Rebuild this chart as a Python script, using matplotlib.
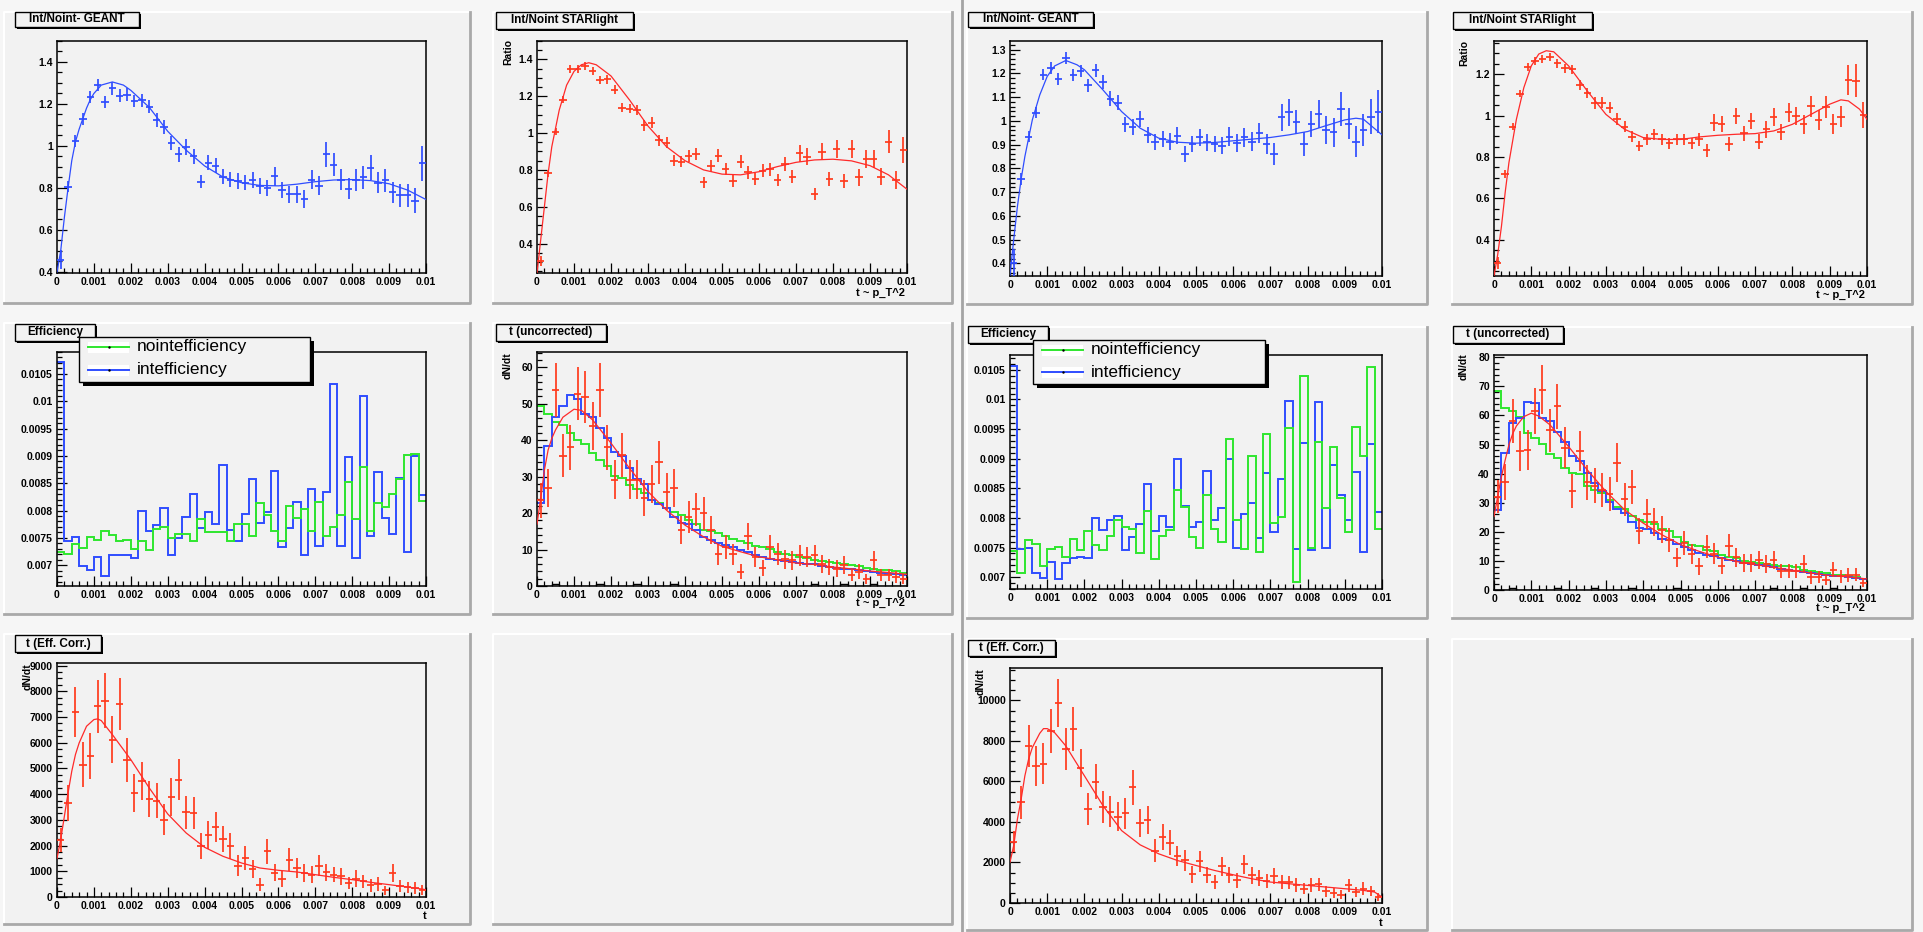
import numpy as np
import matplotlib
matplotlib.use('Agg')
import matplotlib.pyplot as plt
from matplotlib.patches import Rectangle
from matplotlib.lines import Line2D
from matplotlib.ticker import MultipleLocator, AutoMinorLocator, FuncFormatter

plt.rcParams['font.family'] = ['Liberation Sans', 'DejaVu Sans']
plt.rcParams['font.weight'] = 'bold'

# ---------------- data: 50 bins in t from 0 to 0.01 ----------------
t_edges = np.linspace(0.0, 0.01, 51)

# ---- left canvas ----
geantL_vals = [0.458, 0.805, 1.025, 1.128, 1.235, 1.29, 1.21, 1.275, 1.24, 1.245,
               1.215, 1.217, 1.187, 1.125, 1.09, 1.013, 0.96, 0.995, 0.95, 0.83,
               0.92, 0.905, 0.853, 0.84, 0.833, 0.825, 0.837, 0.81, 0.80, 0.855,
               0.79, 0.77, 0.77, 0.746, 0.84, 0.81, 0.96, 0.91, 0.84, 0.797,
               0.837, 0.85, 0.897, 0.825, 0.837, 0.78, 0.765, 0.765, 0.74, 0.918]
geantL_errs = [0.045, 0.026, 0.028, 0.028, 0.028, 0.028, 0.03, 0.03, 0.03, 0.03,
               0.03, 0.032, 0.032, 0.034, 0.034, 0.034, 0.034, 0.036, 0.036, 0.032,
               0.036, 0.036, 0.036, 0.036, 0.036, 0.036, 0.038, 0.038, 0.038, 0.045,
               0.04, 0.04, 0.04, 0.042, 0.045, 0.045, 0.058, 0.055, 0.05, 0.05,
               0.052, 0.055, 0.06, 0.05, 0.055, 0.05, 0.055, 0.055, 0.06, 0.083]
geantL_fit_t = [0, 0.0001, 0.0002, 0.0003, 0.0004, 0.0005, 0.0006, 0.0007, 0.0008, 0.0009, 0.001,
                0.0012, 0.0015, 0.0018, 0.002, 0.0025, 0.003, 0.0035, 0.004, 0.0045, 0.005,
                0.0055, 0.006, 0.0065, 0.007, 0.0075, 0.008, 0.0085, 0.009, 0.0095, 0.01]
geantL_fit_y = [0.40, 0.50, 0.66, 0.80, 0.93, 1.02, 1.08, 1.13, 1.18, 1.22, 1.25,
                1.29, 1.305, 1.29, 1.265, 1.184, 1.07, 0.98, 0.905, 0.852, 0.825,
                0.812, 0.81, 0.818, 0.83, 0.838, 0.84, 0.835, 0.82, 0.79, 0.745]

starL_vals = [0.306, 0.782, 1.007, 1.182, 1.346, 1.35, 1.364, 1.337, 1.286, 1.292,
              1.236, 1.137, 1.133, 1.124, 1.043, 1.056, 0.962, 0.948, 0.849, 0.845,
              0.876, 0.886, 0.733, 0.822, 0.877, 0.805, 0.74, 0.845, 0.786, 0.751,
              0.795, 0.804, 0.744, 0.832, 0.764, 0.89, 0.872, 0.67, 0.899, 0.751,
              0.914, 0.74, 0.912, 0.759, 0.86, 0.86, 0.764, 0.953, 0.746, 0.908]
starL_errs = [0.027, 0.02, 0.02, 0.02, 0.022, 0.022, 0.022, 0.022, 0.022, 0.024,
              0.024, 0.024, 0.024, 0.026, 0.03, 0.03, 0.03, 0.03, 0.03, 0.03,
              0.032, 0.034, 0.03, 0.034, 0.036, 0.034, 0.032, 0.036, 0.034, 0.034,
              0.036, 0.036, 0.034, 0.04, 0.036, 0.045, 0.045, 0.032, 0.048, 0.04,
              0.05, 0.04, 0.05, 0.045, 0.05, 0.05, 0.045, 0.063, 0.05, 0.068]
starL_fit_t = [0, 0.0001, 0.0002, 0.0003, 0.0004, 0.0006, 0.0008, 0.001, 0.0012, 0.0014, 0.0016,
               0.002, 0.0025, 0.003, 0.0035, 0.004, 0.0045, 0.005, 0.0055, 0.006, 0.0065,
               0.007, 0.0075, 0.008, 0.0085, 0.009, 0.0095, 0.01]
starL_fit_y = [0.24, 0.42, 0.60, 0.78, 0.926, 1.124, 1.26, 1.335, 1.371, 1.382, 1.371,
               1.31, 1.18, 1.038, 0.926, 0.85, 0.80, 0.777, 0.773, 0.79, 0.818,
               0.841, 0.854, 0.858, 0.849, 0.823, 0.773, 0.695]

effL_int = [0.01071, 0.00744, 0.00751, 0.00698, 0.00692, 0.00715, 0.00681, 0.00719, 0.00719, 0.00718,
            0.00713, 0.00799, 0.00763, 0.00773, 0.00804, 0.00719, 0.00749, 0.00788, 0.00831, 0.00768,
            0.00797, 0.00776, 0.00884, 0.00765, 0.00744, 0.00794, 0.00858, 0.00777, 0.00798, 0.00872,
            0.00734, 0.00768, 0.00815, 0.00718, 0.0084, 0.00736, 0.00834, 0.01032, 0.00736, 0.00898,
            0.00713, 0.0101, 0.00753, 0.0087, 0.00787, 0.00757, 0.00859, 0.00724, 0.009, 0.00828]
effL_noint = [0.00724, 0.00721, 0.00739, 0.00732, 0.00751, 0.00747, 0.00763, 0.00755, 0.00745, 0.00747,
              0.00729, 0.00744, 0.00727, 0.00767, 0.0077, 0.00749, 0.00757, 0.00757, 0.00745, 0.00784,
              0.0076, 0.0076, 0.00761, 0.00744, 0.00776, 0.00776, 0.00753, 0.00813, 0.00791, 0.00763,
              0.00744, 0.00808, 0.00787, 0.00803, 0.00763, 0.00815, 0.00753, 0.0077, 0.00791, 0.00852,
              0.00784, 0.0088, 0.00763, 0.00813, 0.00807, 0.00831, 0.00857, 0.00901, 0.00904, 0.00817]

uncL_vals = [23.5, 27.0, 53.8, 35.8, 38.1, 52.8, 51.9, 44.0, 53.8, 38.1,
             29.2, 36.0, 29.2, 29.2, 24.1, 28.0, 33.9, 25.9, 27.0, 15.3,
             19.0, 21.0, 19.9, 15.3, 8.7, 10.7, 8.7, 3.9, 13.6, 8.0,
             4.9, 10.8, 8.8, 7.3, 7.0, 8.4, 8.0, 8.4, 6.0, 5.2,
             4.8, 5.7, 3.0, 3.9, 2.0, 7.0, 3.0, 3.0, 2.5, 2.0]
uncL_errs = [4.8, 5.2, 7.3, 6.0, 6.2, 7.3, 7.2, 6.6, 7.3, 6.2,
             5.4, 6.0, 5.4, 5.4, 4.9, 5.3, 5.8, 5.1, 5.2, 3.9,
             4.4, 4.6, 4.5, 3.9, 2.9, 3.3, 2.9, 2.0, 3.7, 2.8,
             2.2, 3.3, 3.0, 2.7, 2.6, 2.9, 2.8, 2.9, 2.4, 2.3,
             2.2, 2.4, 1.7, 2.0, 1.4, 2.6, 1.7, 1.7, 1.6, 1.4]
uncL_int = [22.8, 38.3, 46.3, 49.5, 52.3, 51.4, 47.2, 46.5, 43.3, 40.7,
            36.9, 35.8, 32.3, 29.3, 27.9, 23.6, 22.4, 21.3, 19.0, 17.2,
            16.9, 15.3, 13.5, 12.6, 11.9, 11.2, 10.6, 9.8, 9.2, 8.6,
            8.0, 7.5, 7.2, 6.9, 6.6, 6.3, 6.1, 5.9, 5.5, 5.2,
            5.0, 4.8, 4.6, 4.3, 4.1, 3.9, 3.6, 3.4, 3.2, 3.0]
uncL_noint = [49.5, 47.2, 45.1, 44.2, 42.1, 40.1, 38.9, 36.4, 34.6, 32.8,
              30.3, 29.5, 27.7, 26.5, 25.6, 23.6, 22.9, 21.5, 20.4, 19.6,
              18.1, 16.9, 15.5, 15.0, 14.6, 13.8, 13.0, 12.4, 11.7, 10.9,
              10.7, 10.1, 9.4, 8.9, 8.4, 8.0, 7.7, 7.2, 6.9, 6.6,
              6.3, 6.0, 5.7, 5.4, 5.0, 4.8, 4.5, 4.3, 4.1, 3.7]
uncL_black = [0, 0, 0.6, 0, 0, 0, 0, 0, 0.6, 0,
              0, 0, 0, 0.6, 0, 0, 0, 0, 0.6, 0,
              0, 0, 0, 0, 0, 0, 0, 0, 0, 0,
              0, 0, 0, 0, 0, 0, 0, 0.6, 0, 0,
              0, 0.6, 0, 0, 0, 0.6, 0, 0, 0, 0]
uncL_fit_t = [0, 0.0001, 0.0002, 0.0003, 0.0004, 0.0005, 0.0007, 0.001, 0.0012, 0.0015, 0.002,
              0.0025, 0.003, 0.0035, 0.004, 0.0045, 0.005, 0.0055, 0.006, 0.0065, 0.007,
              0.0075, 0.008, 0.0085, 0.009, 0.0095, 0.01]
uncL_fit_y = [17.0, 24.0, 31.8, 37.3, 40.5, 42.8, 46.3, 48.5, 48.2, 45.6, 39.2,
              32.3, 25.9, 20.8, 16.7, 13.5, 10.9, 9.4, 8.0, 7.2, 6.3,
              5.9, 5.2, 4.7, 4.1, 3.7, 3.2]

corL_vals = [2231, 3658, 7185, 5149, 5499, 7419, 7640, 6122, 7510, 5318,
             4047, 4501, 3813, 3748, 3009, 3878, 4565, 3294, 3268, 1971,
             2399, 2711, 2270, 1997, 1219, 1517, 1089, 480, 1777, 934,
             700, 1453, 1128, 934, 869, 1219, 960, 869, 804, 545,
             713, 610, 454, 506, 259, 934, 415, 376, 350, 285]
corL_errs = [466, 703, 980, 860, 891, 1024, 1062, 924, 1021, 862,
             749, 747, 705, 693, 614, 733, 785, 646, 627, 505,
             549, 591, 508, 511, 413, 464, 369, 243, 482, 331,
             316, 442, 380, 346, 328, 421, 340, 300, 328, 239,
             325, 256, 262, 256, 183, 353, 239, 217, 221, 201]
corL_fit_t = [0, 0.0001, 0.0002, 0.0003, 0.0004, 0.0005, 0.0006, 0.0008, 0.001, 0.0011, 0.0012,
              0.0015, 0.002, 0.0025, 0.003, 0.0035, 0.004, 0.0045, 0.005, 0.0055, 0.006,
              0.0065, 0.007, 0.0075, 0.008, 0.0085, 0.009, 0.0095, 0.01]
corL_fit_y = [1500, 2230, 3140, 4050, 4890, 5540, 5990, 6640, 6900, 6926, 6860,
              6316, 5344, 4241, 3230, 2490, 1933, 1582, 1323, 1128, 1038,
              973, 869, 765, 674, 571, 480, 389, 285]

# ---- right canvas ----
geantR_vals = [0.40, 0.756, 0.934, 1.035, 1.194, 1.222, 1.177, 1.264, 1.194, 1.21,
               1.149, 1.212, 1.165, 1.093, 1.077, 0.986, 0.973, 1.008, 0.941, 0.91,
               0.923, 0.913, 0.938, 0.861, 0.903, 0.93, 0.909, 0.902, 0.896, 0.934,
               0.906, 0.931, 0.913, 0.948, 0.903, 0.861, 1.015, 1.036, 0.994, 0.902,
               0.987, 1.029, 0.962, 0.952, 1.05, 0.987, 0.913, 0.962, 1.018, 1.039]
geantR_errs = [0.06, 0.025, 0.022, 0.022, 0.024, 0.024, 0.025, 0.026, 0.026, 0.027,
               0.028, 0.028, 0.03, 0.032, 0.032, 0.032, 0.033, 0.033, 0.033, 0.033,
               0.033, 0.034, 0.035, 0.033, 0.034, 0.035, 0.035, 0.035, 0.036, 0.038,
               0.037, 0.039, 0.04, 0.042, 0.042, 0.045, 0.057, 0.058, 0.05, 0.05,
               0.055, 0.06, 0.06, 0.062, 0.073, 0.065, 0.065, 0.068, 0.075, 0.09]
geantR_fit_t = [0, 0.0001, 0.0002, 0.0003, 0.0004, 0.0006, 0.0008, 0.001, 0.0012, 0.0015, 0.0018,
                0.002, 0.0025, 0.003, 0.0035, 0.004, 0.0045, 0.005, 0.0055, 0.006, 0.0065,
                0.007, 0.0075, 0.008, 0.0085, 0.009, 0.0093, 0.0095, 0.01]
geantR_fit_y = [0.35, 0.50, 0.64, 0.755, 0.85, 1.004, 1.109, 1.187, 1.231, 1.254, 1.236,
                1.215, 1.13, 1.039, 0.969, 0.927, 0.91, 0.906, 0.909, 0.916, 0.923,
                0.93, 0.941, 0.955, 0.98, 1.004, 1.011, 1.007, 0.941]

starR_vals = [0.289, 0.719, 0.947, 1.106, 1.235, 1.265, 1.273, 1.284, 1.252, 1.229,
              1.224, 1.147, 1.111, 1.06, 1.063, 1.039, 0.985, 0.947, 0.898, 0.853,
              0.885, 0.91, 0.885, 0.866, 0.885, 0.885, 0.866, 0.885, 0.832, 0.966,
              0.958, 0.865, 0.998, 0.915, 0.974, 0.873, 0.934, 0.994, 0.921, 1.015,
              0.998, 0.958, 1.044, 0.979, 1.042, 0.958, 0.995, 1.171, 1.168, 1.002]
starR_errs = [0.028, 0.018, 0.018, 0.018, 0.02, 0.02, 0.02, 0.02, 0.02, 0.022,
              0.022, 0.024, 0.024, 0.028, 0.028, 0.028, 0.028, 0.028, 0.026, 0.024,
              0.026, 0.026, 0.026, 0.026, 0.028, 0.028, 0.028, 0.03, 0.03, 0.04,
              0.038, 0.034, 0.04, 0.036, 0.04, 0.036, 0.042, 0.042, 0.04, 0.045,
              0.045, 0.045, 0.05, 0.048, 0.052, 0.048, 0.05, 0.072, 0.08, 0.064]
starR_fit_t = [0, 0.0001, 0.0002, 0.0003, 0.0004, 0.0006, 0.0008, 0.001, 0.0012, 0.0014, 0.0016,
               0.002, 0.0025, 0.003, 0.0035, 0.004, 0.0045, 0.005, 0.0055, 0.006, 0.0065,
               0.007, 0.0075, 0.008, 0.0085, 0.009, 0.0093, 0.0095, 0.0098, 0.01]
starR_fit_y = [0.227, 0.33, 0.466, 0.63, 0.773, 0.982, 1.135, 1.24, 1.297, 1.313, 1.308,
               1.24, 1.119, 1.006, 0.934, 0.894, 0.885, 0.885, 0.897, 0.905, 0.91,
               0.913, 0.926, 0.958, 1.006, 1.055, 1.076, 1.071, 1.031, 0.982]

effR_int = [0.01057, 0.00747, 0.00749, 0.00707, 0.00699, 0.00726, 0.00697, 0.00724, 0.00733, 0.00734,
            0.00733, 0.0080, 0.00779, 0.00796, 0.00804, 0.00745, 0.00768, 0.00789, 0.00857, 0.00778,
            0.00804, 0.00785, 0.0090, 0.0082, 0.00785, 0.00793, 0.0088, 0.00797, 0.00816, 0.0090,
            0.00749, 0.00807, 0.00825, 0.00766, 0.00875, 0.00776, 0.00866, 0.00997, 0.00748, 0.00926,
            0.00745, 0.00995, 0.00749, 0.0089, 0.00838, 0.00796, 0.00877, 0.00742, 0.00924, 0.0081]
effR_noint = [0.00744, 0.00707, 0.00762, 0.00756, 0.00719, 0.00748, 0.00751, 0.00734, 0.00765, 0.00745,
              0.00778, 0.00755, 0.00745, 0.0077, 0.00796, 0.00785, 0.00781, 0.00741, 0.00812, 0.0073,
              0.0077, 0.00779, 0.00847, 0.00819, 0.00768, 0.00749, 0.00838, 0.00781, 0.0076, 0.00934,
              0.00797, 0.00747, 0.00904, 0.00743, 0.00942, 0.00792, 0.00802, 0.00951, 0.00692, 0.01039,
              0.00749, 0.00928, 0.00816, 0.00919, 0.00833, 0.00776, 0.00954, 0.00905, 0.01054, 0.00781]

uncR_vals = [32.1, 37.1, 58.1, 47.9, 48.1, 61.7, 68.9, 55.0, 63.1, 48.9,
             34.0, 47.9, 37.0, 35.9, 34.3, 33.0, 43.8, 31.2, 35.3, 20.2,
             26.1, 23.3, 20.8, 17.2, 11.1, 16.2, 12.3, 8.2, 14.9, 12.5,
             8.4, 15.3, 11.2, 9.4, 9.3, 10.3, 8.9, 10.3, 6.5, 6.5,
             6.5, 9.1, 4.3, 4.4, 3.4, 6.9, 4.7, 5.2, 5.3, 2.4]
uncR_errs = [5.7, 6.1, 7.6, 6.9, 6.9, 7.9, 8.3, 7.4, 7.9, 7.0,
             5.8, 6.9, 6.1, 6.0, 5.9, 5.7, 6.6, 5.6, 5.9, 4.5,
             5.1, 4.8, 4.6, 4.1, 3.3, 4.0, 3.5, 2.9, 3.9, 3.5,
             2.9, 3.9, 3.3, 3.1, 3.0, 3.2, 3.0, 3.2, 2.5, 2.5,
             2.5, 3.0, 2.1, 2.1, 1.8, 2.6, 2.2, 2.3, 2.3, 1.5]
uncR_int = [27.6, 47.0, 57.3, 59.0, 64.8, 64.4, 59.0, 58.2, 54.2, 50.8,
            46.2, 44.5, 40.2, 36.7, 34.2, 30.4, 27.8, 26.4, 23.3, 21.3,
            20.9, 19.6, 17.7, 17.3, 15.9, 14.8, 13.8, 12.7, 12.1, 11.6,
            11.0, 10.4, 9.8, 9.3, 8.9, 8.6, 8.1, 7.8, 7.2, 7.0,
            6.4, 6.1, 5.8, 5.5, 5.1, 4.9, 4.7, 4.3, 4.1, 3.9]
uncR_noint = [68.4, 62.5, 61.7, 59.4, 53.9, 52.4, 50.1, 46.8, 45.3, 41.9,
              40.2, 39.9, 35.9, 34.4, 33.3, 31.0, 28.7, 27.9, 25.6, 24.1,
              23.3, 22.7, 21.1, 20.4, 18.1, 16.5, 15.6, 15.0, 13.8, 13.3,
              11.9, 11.3, 11.0, 9.8, 9.6, 9.3, 8.9, 8.7, 8.4, 8.1,
              7.8, 7.0, 6.4, 6.1, 5.8, 5.3, 5.0, 4.7, 4.3, 3.8]
uncR_black = [0, 0, 0.8, 0, 0, 0, 0, 0, 0.8, 0,
              0, 0, 0, 0.8, 0, 0, 0, 0, 0.8, 0,
              0, 0, 0, 0, 0.8, 0, 0, 0, 0, 0,
              0, 0, 0, 0, 0, 0, 0, 0.8, 0, 0,
              0, 0.8, 0, 0, 0, 0.8, 0, 0, 0, 0]
uncR_fit_t = [0, 0.0001, 0.0002, 0.0003, 0.0004, 0.0005, 0.0006, 0.0008, 0.001, 0.0012, 0.0015,
              0.002, 0.0025, 0.003, 0.0035, 0.004, 0.0045, 0.005, 0.0055, 0.006, 0.0065,
              0.007, 0.0075, 0.008, 0.0085, 0.009, 0.0095, 0.01]
uncR_fit_y = [25.3, 32.2, 39.0, 44.7, 49.9, 53.7, 56.4, 59.6, 60.8, 59.8, 56.8,
              49.3, 41.3, 33.9, 27.6, 23.0, 19.0, 15.6, 13.3, 11.3, 9.8,
              8.7, 7.8, 6.8, 5.8, 5.0, 4.5, 3.8]

corR_vals = [3033, 4967, 7754, 6770, 6885, 8492, 9885, 7590, 8607, 6656,
             4639, 5984, 4754, 4508, 4262, 4426, 5705, 3951, 4115, 2590,
             3246, 2967, 2311, 2098, 1410, 2049, 1393, 1033, 1820, 1393,
             1115, 1902, 1361, 1230, 1066, 1328, 1033, 1033, 869, 705,
             869, 918, 574, 492, 410, 869, 541, 705, 574, 295]
corR_errs = [535, 815, 1017, 980, 993, 1080, 1190, 1024, 1083, 951,
             795, 865, 782, 752, 728, 770, 862, 707, 693, 576,
             635, 615, 507, 506, 423, 509, 397, 361, 471, 394,
             385, 486, 407, 401, 350, 414, 346, 322, 341, 276,
             341, 304, 277, 235, 222, 331, 249, 309, 249, 190]
corR_fit_t = [0, 0.0001, 0.0002, 0.0003, 0.0004, 0.0005, 0.0006, 0.0008, 0.0009, 0.001, 0.0012,
              0.0015, 0.002, 0.0025, 0.003, 0.0035, 0.004, 0.0045, 0.005, 0.0055, 0.006,
              0.0065, 0.007, 0.0075, 0.008, 0.0085, 0.009, 0.0095, 0.0098, 0.01]
corR_fit_y = [2016, 2836, 4148, 5131, 6279, 7098, 7672, 8377, 8607, 8607, 8410,
              7754, 6279, 4803, 3574, 2869, 2426, 2098, 1852, 1607, 1393,
              1197, 1033, 951, 869, 787, 705, 623, 541, 295]

legend_labels = ['nointefficiency', 'intefficiency']

# ---------------- styling ----------------
W, H = 1923, 932
BG = '#f6f6f6'
PAD = '#f2f2f2'
RED = '#ff3a1c'
FITRED = '#ff2a2a'
BLUE = '#2f4dff'
GREEN = '#2ee62e'

fig = plt.figure(figsize=(W / 100, H / 100), dpi=100)
fig.patch.set_facecolor(BG)

tf = fig.transFigure
bw = t_edges[1] - t_edges[0]
t_centers = 0.5 * (t_edges[:-1] + t_edges[1:])


def fr(x0, y0, x1, y1):
    return (x0 / W, 1 - y1 / H), (x1 - x0) / W, (y1 - y0) / H


def draw_pad(x0, y0, x1, y1):
    xy, w, h = fr(x0, y0, x1, y1)
    fig.add_artist(Rectangle(xy, w, h, transform=tf, facecolor=PAD, edgecolor='none', zorder=-2))
    fig.add_artist(Line2D([x0 / W, x0 / W, x1 / W], [1 - y1 / H, 1 - y0 / H, 1 - y0 / H],
                          transform=tf, color='white', lw=1.5, zorder=-1))
    fig.add_artist(Line2D([x0 / W, x1 / W, x1 / W], [1 - y1 / H, 1 - y1 / H, 1 - y0 / H],
                          transform=tf, color='#a9a9a9', lw=2.0, zorder=-1))


def title_box(x0, y0, x1, y1, text):
    xy, w, h = fr(x0 + 2, y0 + 2, x1 + 2, y1 + 2)
    fig.add_artist(Rectangle(xy, w, h, transform=tf, facecolor='black', edgecolor='none', zorder=5))
    xy, w, h = fr(x0, y0, x1, y1)
    fig.add_artist(Rectangle(xy, w, h, transform=tf, facecolor=PAD, edgecolor='black', lw=1.0, zorder=6))
    fig.text((x0 + x1) / 2 / W, 1 - (y0 + y1) / 2 / H, text, ha='center', va='center',
             fontsize=8.5, fontweight='bold', zorder=7)


def legend_box(x0, y0, x1, y1, lx0, lx1, ys, tx):
    xy, w, h = fr(x0 + 4, y0 + 4, x1 + 4, y1 + 4)
    fig.add_artist(Rectangle(xy, w, h, transform=tf, facecolor='black', edgecolor='none', zorder=8))
    xy, w, h = fr(x0, y0, x1, y1)
    fig.add_artist(Rectangle(xy, w, h, transform=tf, facecolor=PAD, edgecolor='black', lw=1.0, zorder=9))
    for yy, col, lab in zip(ys, [GREEN, BLUE], legend_labels):
        xy, w, h = fr(lx0, yy - 5.5, lx1, yy + 5.5)
        fig.add_artist(Rectangle(xy, w, h, transform=tf, facecolor='white', edgecolor='none', zorder=10))
        fig.add_artist(Line2D([lx0 / W, lx1 / W], [1 - yy / H, 1 - yy / H], transform=tf,
                              color=col, lw=1.4, zorder=11))
        fig.add_artist(Line2D([(lx0 + lx1) / 2 / W], [1 - yy / H], transform=tf, marker='.',
                              markersize=1.5, color='black', zorder=12))
        fig.text(tx / W, 1 - yy / H, lab, ha='left', va='center', fontsize=12.5,
                 fontweight='normal', zorder=12)


fmt = FuncFormatter(lambda v, p: '%g' % round(v, 7))


def make_axes(x0, y0, x1, y1, ylim, ymaj, ymin_n):
    xy, w, h = fr(x0, y0, x1, y1)
    ax = fig.add_axes([xy[0], xy[1], w, h])
    ax.set_zorder(1)
    ax.set_facecolor(PAD)
    ax.set_xlim(0, 0.01)
    ax.set_ylim(*ylim)
    ax.xaxis.set_major_locator(MultipleLocator(0.001))
    ax.xaxis.set_minor_locator(AutoMinorLocator(5))
    ax.yaxis.set_major_locator(MultipleLocator(ymaj))
    ax.yaxis.set_minor_locator(AutoMinorLocator(ymin_n))
    ax.xaxis.set_major_formatter(fmt)
    ax.yaxis.set_major_formatter(fmt)
    ax.tick_params(which='both', direction='in', top=False, right=False, width=0.9,
                   labelsize=7.5, pad=3)
    ax.tick_params(which='major', length=7)
    ax.tick_params(which='minor', length=3.5)
    for lab in ax.get_xticklabels() + ax.get_yticklabels():
        lab.set_fontweight('bold')
    for s in ax.spines.values():
        s.set_linewidth(1.1)
        s.set_color('black')
    return ax


def points(ax, vals, errs, color):
    ax.errorbar(t_centers, vals, yerr=errs, xerr=bw / 2, fmt='none', ecolor=color,
                elinewidth=1.25, capsize=0, zorder=4)


def fit(ax, tt, yy, color):
    ax.plot(tt, yy, color=color, lw=0.9, zorder=5)


def hist(ax, vals, color, lw=1.4, z=2):
    ax.stairs(vals, t_edges, color=color, linewidth=lw, baseline=None, zorder=z)


def ytitle(x, ytop, text):
    fig.text(x / W, 1 - ytop / H, text, rotation=90, ha='center', va='top',
             fontsize=7.5, fontweight='bold', zorder=7)


def xtitle(xr, yc, text):
    fig.text(xr / W, 1 - yc / H, text, ha='right', va='center',
             fontsize=8, fontweight='bold', zorder=7)


# ---------------- canvas structure ----------------
pads = [(4, 12, 470, 303), (493, 12, 952, 303),
        (4, 323, 470, 614), (493, 323, 952, 614),
        (4, 634, 470, 924), (493, 634, 952, 924),
        (967, 12, 1427, 304), (1452, 12, 1912, 304),
        (967, 327, 1427, 618), (1452, 327, 1912, 618),
        (967, 639, 1427, 930), (1452, 639, 1912, 930)]
for p in pads:
    draw_pad(*p)

fig.add_artist(Line2D([962 / W, 962 / W], [0, 1], transform=tf, color='#a4a4a4', lw=2.0, zorder=-1))

# ---- left canvas ----
ax = make_axes(57, 41, 426, 273, (0.395, 1.5), 0.2, 4)
points(ax, geantL_vals, geantL_errs, BLUE)
fit(ax, geantL_fit_t, geantL_fit_y, BLUE)
title_box(15, 12, 139, 27, 'Int/Noint- GEANT')

ax = make_axes(537, 41, 907, 273, (0.24, 1.5), 0.2, 4)
points(ax, starL_vals, starL_errs, RED)
fit(ax, starL_fit_t, starL_fit_y, FITRED)
title_box(496, 12, 633, 29, 'Int/Noint STARlight')
ytitle(508, 39, 'Ratio')
xtitle(905, 293, 't ~ p_T^2')

ax = make_axes(57, 352, 426, 586, (0.00662, 0.0109), 0.0005, 5)
hist(ax, effL_int, BLUE)
hist(ax, effL_noint, GREEN)
title_box(15, 324, 95, 341, 'Efficiency')
legend_box(79, 337, 310, 382, 88, 129, [347, 370], 137)

ax = make_axes(537, 352, 907, 586, (0, 64.2), 10, 5)
hist(ax, uncL_black, 'black', lw=1.0, z=1.5)
hist(ax, uncL_noint, GREEN)
hist(ax, uncL_int, BLUE)
points(ax, uncL_vals, uncL_errs, RED)
fit(ax, uncL_fit_t, uncL_fit_y, FITRED)
title_box(496, 324, 606, 341, 't (uncorrected)')
ytitle(508, 352, 'dN/dt')
xtitle(905, 603, 't ~ p_T^2')

ax = make_axes(57, 663, 426, 897, (0, 9100), 1000, 4)
points(ax, corL_vals, corL_errs, RED)
fit(ax, corL_fit_t, corL_fit_y, FITRED)
title_box(15, 635, 101, 652, 't (Eff. Corr.)')
ytitle(28, 663, 'dN/dt')
xtitle(427, 916, 't')

# ---- right canvas ----
ax = make_axes(1010, 41, 1382, 276, (0.347, 1.336), 0.1, 5)
points(ax, geantR_vals, geantR_errs, BLUE)
fit(ax, geantR_fit_t, geantR_fit_y, BLUE)
title_box(968, 12, 1093, 27, 'Int/Noint- GEANT')

ax = make_axes(1494, 41, 1867, 276, (0.226, 1.36), 0.2, 4)
points(ax, starR_vals, starR_errs, RED)
fit(ax, starR_fit_t, starR_fit_y, FITRED)
title_box(1453, 12, 1592, 29, 'Int/Noint STARlight')
ytitle(1464, 40, 'Ratio')
xtitle(1865, 295, 't ~ p_T^2')

ax = make_axes(1010, 355, 1382, 589, (0.0068, 0.01075), 0.0005, 5)
hist(ax, effR_int, BLUE)
hist(ax, effR_noint, GREEN)
title_box(968, 326, 1048, 343, 'Efficiency')
legend_box(1033, 340, 1265, 384, 1042, 1083, [350, 372], 1091)

ax = make_axes(1494, 355, 1867, 590, (0, 80.8), 10, 5)
hist(ax, uncR_black, 'black', lw=1.0, z=1.5)
hist(ax, uncR_noint, GREEN)
hist(ax, uncR_int, BLUE)
points(ax, uncR_vals, uncR_errs, RED)
fit(ax, uncR_fit_t, uncR_fit_y, FITRED)
title_box(1453, 326, 1563, 343, 't (uncorrected)')
ytitle(1464, 353, 'dN/dt')
xtitle(1865, 608, 't ~ p_T^2')

ax = make_axes(1010, 668, 1382, 903, (0, 11600), 2000, 4)
points(ax, corR_vals, corR_errs, RED)
fit(ax, corR_fit_t, corR_fit_y, FITRED)
title_box(968, 640, 1055, 656, 't (Eff. Corr.)')
ytitle(981, 668, 'dN/dt')
xtitle(1383, 923, 't')

fig.savefig('out.png', dpi=100, facecolor=fig.get_facecolor())
